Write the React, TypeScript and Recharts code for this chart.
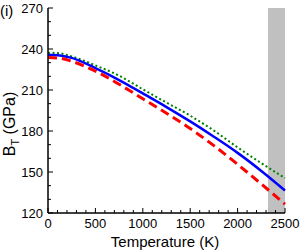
import React from "react";
import { LineChart, Line, XAxis, YAxis, ReferenceArea } from "recharts";

const temps = [0, 125, 250, 500, 750, 1000, 1250, 1500, 1750, 2000, 2250, 2500];
const blueB = [235.8, 235.3, 233.5, 226, 217.3, 207.5, 197.5, 187, 175.8, 164, 150.8, 136.5];
const greenB = [237.3, 236.8, 234.6, 228, 220.5, 210.5, 200.8, 191.2, 180.3, 168, 156.5, 145.5];
const redB = [233.8, 233.3, 231, 223.8, 214.2, 203.6, 193, 181.8, 169.3, 155.6, 141.2, 126.5];

const xTicks = [0, 100, 200, 300, 400, 500, 600, 700, 800, 900, 1000, 1100, 1200, 1300, 1400, 1500, 1600, 1700, 1800, 1900, 2000, 2100, 2200, 2300, 2400, 2500];
const xMajor = [0, 500, 1000, 1500, 2000, 2500];
const yTicks = [120, 130, 140, 150, 160, 170, 180, 190, 200, 210, 220, 230, 240, 250, 260, 270];
const yMajor = [120, 150, 180, 210, 240, 270];
const shaded = [2320, 2500];

const data = temps.map((t, i) => ({ t, blue: blueB[i], green: greenB[i], red: redB[i] }));

const FONT = "'Liberation Sans', Arial, sans-serif";
const MAJOR = 5;
const MINOR = 3;

const BottomTick = (p: any) => {
  const major = xMajor.includes(p.payload.value);
  return (
    <g>
      <line x1={p.x} x2={p.x} y1={p.y} y2={p.y - (major ? MAJOR : MINOR)} stroke="#000" strokeWidth={1} />
      {major && (
        <text x={p.x} y={p.y + 15} textAnchor="middle" fontSize={13} fontFamily={FONT} fill="#000">
          {p.payload.value}
        </text>
      )}
    </g>
  );
};

const TopTick = (p: any) => {
  const major = xMajor.includes(p.payload.value);
  return <line x1={p.x} x2={p.x} y1={p.y} y2={p.y + (major ? MAJOR : MINOR)} stroke="#000" strokeWidth={1} />;
};

const LeftTick = (p: any) => {
  const major = yMajor.includes(p.payload.value);
  return (
    <g>
      <line x1={p.x} x2={p.x + (major ? MAJOR : MINOR)} y1={p.y} y2={p.y} stroke="#000" strokeWidth={1} />
      {major && (
        <text x={p.x - 5} y={p.y} dy="0.35em" textAnchor="end" fontSize={13} fontFamily={FONT} fill="#000">
          {p.payload.value}
        </text>
      )}
    </g>
  );
};

const RightTick = (p: any) => {
  const major = yMajor.includes(p.payload.value);
  return <line x1={p.x} x2={p.x - (major ? MAJOR : MINOR)} y1={p.y} y2={p.y} stroke="#000" strokeWidth={1} />;
};

// rotated axis title, subscript T drops toward the axis
const YLabel = () => (
  <text
    x={14.5}
    y={124}
    transform="rotate(-90, 14.5, 124)"
    textAnchor="middle"
    fontSize={16}
    fontFamily={FONT}
    fill="#000"
  >
    B<tspan dy={4} fontSize={11}>T</tspan>
    <tspan dy={-4}> (GPa)</tspan>
  </text>
);

const XLabel = () => (
  <text x={165} y={247} textAnchor="middle" fontSize={15} fontFamily={FONT} fill="#000">
    Temperature (K)
  </text>
);

export default function App() {
  return (
    <div style={{ position: "absolute", left: 0, top: 0, width: 300, height: 250, background: "#fff" }}>
      <LineChart width={300} height={250} data={data} margin={{ top: 8, right: 15, left: 0, bottom: 0 }}>
        <ReferenceArea x1={shaded[0]} x2={shaded[1]} y1={120} y2={270} fill="#c0c0c0" fillOpacity={1} stroke="none" />
        <XAxis
          dataKey="t"
          type="number"
          domain={[0, 2500]}
          ticks={xTicks}
          interval={0}
          height={37}
          tickSize={0}
          tickMargin={0}
          tickLine={false}
          tick={BottomTick}
          axisLine={{ stroke: "#000", strokeWidth: 1.5 }}
          label={<XLabel />}
        />
        <XAxis
          xAxisId="top"
          orientation="top"
          dataKey="t"
          type="number"
          domain={[0, 2500]}
          ticks={xTicks}
          interval={0}
          height={0}
          tickSize={0}
          tickMargin={0}
          tickLine={false}
          tick={TopTick}
          axisLine={{ stroke: "#000", strokeWidth: 1.5 }}
        />
        <YAxis
          type="number"
          domain={[120, 270]}
          ticks={yTicks}
          interval={0}
          width={48}
          tickSize={0}
          tickMargin={0}
          tickLine={false}
          tick={LeftTick}
          axisLine={{ stroke: "#000", strokeWidth: 1.5 }}
          label={<YLabel />}
        />
        <YAxis
          yAxisId="right"
          orientation="right"
          type="number"
          domain={[120, 270]}
          ticks={yTicks}
          interval={0}
          width={0}
          tickSize={0}
          tickMargin={0}
          tickLine={false}
          tick={RightTick}
          axisLine={{ stroke: "#000", strokeWidth: 1.5 }}
        />
        <Line type="monotone" dataKey="green" stroke="#008000" strokeWidth={2} strokeDasharray="2 2.5" dot={false} isAnimationActive={false} />
        <Line type="monotone" dataKey="blue" stroke="#0000ff" strokeWidth={2.5} dot={false} isAnimationActive={false} />
        <Line type="monotone" dataKey="red" stroke="#ff0000" strokeWidth={3} strokeDasharray="9 5" dot={false} isAnimationActive={false} />
      </LineChart>
      <div style={{ position: "absolute", left: 0, top: 2, fontSize: 15, fontFamily: FONT, color: "#000" }}>(i)</div>
    </div>
  );
}
